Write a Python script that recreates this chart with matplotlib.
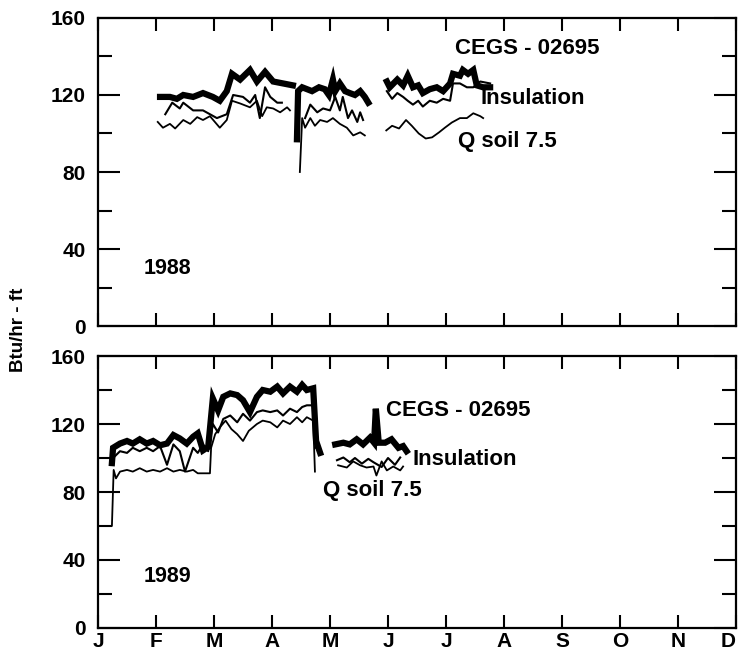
import numpy as np
import matplotlib.pyplot as plt
from matplotlib.ticker import MultipleLocator

plt.rcParams['font.family'] = ['Liberation Sans', 'DejaVu Sans']
plt.rcParams['font.weight'] = 'bold'

nan = np.nan
months = ['J', 'F', 'M', 'A', 'M', 'J', 'J', 'A', 'S', 'O', 'N', 'D']

### 1988 (x in months from Jan 1, nan = gap in record)
m88_cegs = [1.07, 1.24, 1.36, 1.47, 1.64, 1.81, 1.98, 2.10, 2.22, 2.31, 2.45, 2.62, 2.74, 2.88, 3.02, 3.19, 3.36, nan,
            3.43, 3.45, 3.52, 3.69, 3.81, 3.91, 3.98, 4.05, 4.09, 4.17, 4.26, 4.34, 4.43, 4.52, 4.60, 4.66, nan,
            4.98, 5.03, 5.16, 5.26, 5.34, 5.43, 5.52, 5.60, 5.72, 5.84, 5.95, 6.07, 6.12, 6.24, 6.29, 6.38, 6.47, 6.53, 6.64, 6.76]
cegs88 = [119, 119, 118, 120, 119, 121, 119, 117, 122, 131, 128, 133, 127, 132, 127, 126, 125, nan,
          97, 122, 124, 122, 124, 123, 120, 128, 122, 126, 122, 121, 120, 122, 119, 116, nan,
          127, 124, 128, 125, 130, 124, 125, 121, 123, 124, 122, 126, 131, 130, 133, 131, 133, 125, 124, 124]

m88_ins = [1.16, 1.28, 1.41, 1.47, 1.64, 1.81, 2.05, 2.22, 2.33, 2.50, 2.62, 2.71, 2.79, 2.88, 2.97, 3.09, 3.17, nan,
           3.57, 3.66, 3.78, 3.88, 4.00, 4.09, 4.17, 4.22, 4.31, 4.38, 4.47, 4.52, 4.57, nan,
           4.98, 5.07, 5.16, 5.26, 5.34, 5.43, 5.52, 5.60, 5.72, 5.84, 5.95, 6.07, 6.12, 6.24, 6.36, 6.47, 6.59, 6.76]
ins88 = [110, 116, 113, 116, 112, 112, 108, 110, 120, 119, 116, 120, 108, 124, 119, 116, 116, nan,
         108, 115, 111, 113, 112, 119, 112, 119, 108, 112, 106, 111, 107, nan,
         122, 118, 121, 119, 117, 115, 117, 114, 117, 116, 118, 117, 126, 126, 124, 124, 127, 126]

m88_soil = [1.03, 1.12, 1.24, 1.33, 1.47, 1.59, 1.71, 1.81, 1.93, 2.10, 2.22, 2.31, 2.45, 2.62, 2.74, 2.83, 2.91, 3.02, 3.14, 3.26, 3.31, nan,
            3.48, 3.52, 3.57, 3.66, 3.74, 3.83, 3.95, 4.05, 4.17, 4.29, 4.40, 4.52, 4.60, nan,
            4.97, 5.07, 5.19, 5.31, 5.41, 5.53, 5.65, 5.76, 5.88, 5.98, 6.10, 6.24, 6.36, 6.47, 6.59, 6.64]
soil88 = [106, 103, 105, 102.6, 107, 105, 108.5, 107, 109, 103, 107, 117, 115.6, 113.6, 117, 109, 113.6, 113, 111, 113.6, 112, nan,
          80, 108, 103, 108, 104, 107, 106, 108, 105, 103, 99, 100.6, 99, nan,
          101.6, 104, 102.6, 107, 104, 100, 97.4, 98, 100.6, 103, 105.7, 108, 108, 110.5, 109, 108]

### 1989
m89_cegs = [0.24, 0.26, 0.38, 0.50, 0.60, 0.72, 0.84, 0.95, 1.07, 1.19, 1.30, 1.41, 1.53, 1.64, 1.72, 1.81, 1.90,
            1.98, 2.07, 2.16, 2.28, 2.40, 2.50, 2.62, 2.74, 2.84, 2.97, 3.09, 3.19, 3.31, 3.43, 3.52, 3.60, 3.71, 3.76, 3.83, nan,
            4.09, 4.23, 4.34, 4.46, 4.57, 4.69, 4.76, 4.79, 4.84, 4.95, 5.06, 5.18, 5.26, 5.32]
cegs89 = [97, 106, 108.5, 110, 108.5, 111, 108.5, 110, 107.5, 108.5, 113.5, 111.5, 108.5, 112.5, 114.5, 104.5, 106.5,
          135, 128, 136, 138, 137, 134, 127, 136, 140, 139, 142, 138, 142, 139, 143, 140, 141, 110, 103, nan,
          108, 109, 108, 111, 108, 112, 109, 129, 109, 109, 111, 106, 107, 104]

m89_ins = [0.26, 0.38, 0.50, 0.60, 0.72, 0.84, 0.95, 1.07, 1.19, 1.30, 1.41, 1.50, 1.64, 1.72, 1.81, 1.90,
           1.98, 2.07, 2.16, 2.28, 2.40, 2.50, 2.62, 2.74, 2.84, 2.97, 3.09, 3.19, 3.31, 3.43, 3.52, 3.60, 3.71, 3.76, nan,
           4.12, 4.23, 4.34, 4.43, 4.55, 4.66, 4.75, 4.89, 5.00, 5.12, 5.21]
ins89 = [100, 104, 103, 106, 104, 106, 104, 107, 96, 108, 104, 92, 106, 103, 108, 104,
         120, 115, 123, 125, 121, 126, 122, 127, 128, 127, 128, 125, 129, 127, 130, 131, 131, 106, nan,
         98.7, 100.3, 97.5, 100, 96.7, 99.5, 97.5, 94.7, 100, 96, 100.3]

m89_soil = [0.00, 0.24, 0.27, 0.31, 0.38, 0.50, 0.60, 0.72, 0.84, 0.95, 1.07, 1.19, 1.30, 1.41, 1.53, 1.64, 1.72, 1.81, 1.93,
            1.95, 2.02, 2.10, 2.20, 2.30, 2.40, 2.50, 2.60, 2.74, 2.84, 2.97, 3.09, 3.19, 3.31, 3.43, 3.52, 3.60, 3.71, 3.74, nan,
            4.14, 4.29, 4.40, 4.52, 4.63, 4.75, 4.80, 4.89, 4.98, 5.09, 5.21, 5.26]
soil89 = [60, 60, 93, 88, 92, 93, 92, 94, 92, 93, 92, 94, 92, 93, 92, 93, 91, 91, 91,
          106, 114, 118, 122, 117, 114, 110, 116, 120, 122, 121, 118, 122, 120, 124, 121, 124, 122, 92, nan,
          95.7, 94.4, 98, 95.7, 94.4, 95, 89.7, 98, 92.7, 95, 92.7, 95]


def style_axes(ax, year, labels_x):
    ax.set_xlim(0, 11)
    ax.set_ylim(0, 160)
    ax.xaxis.set_major_locator(MultipleLocator(1))
    ax.yaxis.set_major_locator(MultipleLocator(40))
    ax.yaxis.set_minor_locator(MultipleLocator(20))
    ax.tick_params(axis='x', which='major', direction='in', length=9.5, width=1.5,
                   top=True, bottom=True, pad=3, labelsize=15)
    ax.tick_params(axis='y', which='major', direction='in', length=16, width=1.5,
                   left=True, right=True, pad=9, labelsize=15)
    ax.tick_params(axis='y', which='minor', direction='in', length=10, width=1.5,
                   left=True, right=True)
    if labels_x:
        ax.set_xticks(range(12))
        ax.set_xticklabels(months)
        ax.get_xticklabels()[-1].set_horizontalalignment('right')
    else:
        ax.set_xticklabels([])
    for s in ax.spines.values():
        s.set_linewidth(1.6)
    ax.text(0.78, 30, year, fontsize=15.5, va='center', ha='left')


fig = plt.figure(figsize=(7.39, 6.56), dpi=100)
ax1 = fig.add_axes([0.1326, 0.503, 0.8634, 0.4696])
ax2 = fig.add_axes([0.1326, 0.0427, 0.8634, 0.4146])

ax1.plot(m88_cegs, cegs88, color='black', lw=4.5, solid_joinstyle='miter')
ax1.plot(m88_ins, ins88, color='black', lw=1.5)
ax1.plot(m88_soil, soil88, color='black', lw=1.3)
ax1.text(6.15, 144, 'CEGS - 02695', fontsize=16, va='center')
ax1.text(6.6, 118, 'Insulation', fontsize=16, va='center')
ax1.text(6.2, 96, 'Q soil 7.5', fontsize=16, va='center')
style_axes(ax1, '1988', False)

ax2.plot(m89_cegs, cegs89, color='black', lw=4.5, solid_joinstyle='miter')
ax2.plot(m89_ins, ins89, color='black', lw=1.5)
ax2.plot(m89_soil, soil89, color='black', lw=1.3)
ax2.text(4.97, 128, 'CEGS - 02695', fontsize=16, va='center')
ax2.text(5.43, 99, 'Insulation', fontsize=16, va='center')
ax2.text(3.88, 81, 'Q soil 7.5', fontsize=16, va='center')
style_axes(ax2, '1989', True)

fig.text(0.025, 0.497, 'Btu/hr - ft', rotation=90, va='center', ha='center', fontsize=13.5)

plt.savefig('out.png', dpi=100)
